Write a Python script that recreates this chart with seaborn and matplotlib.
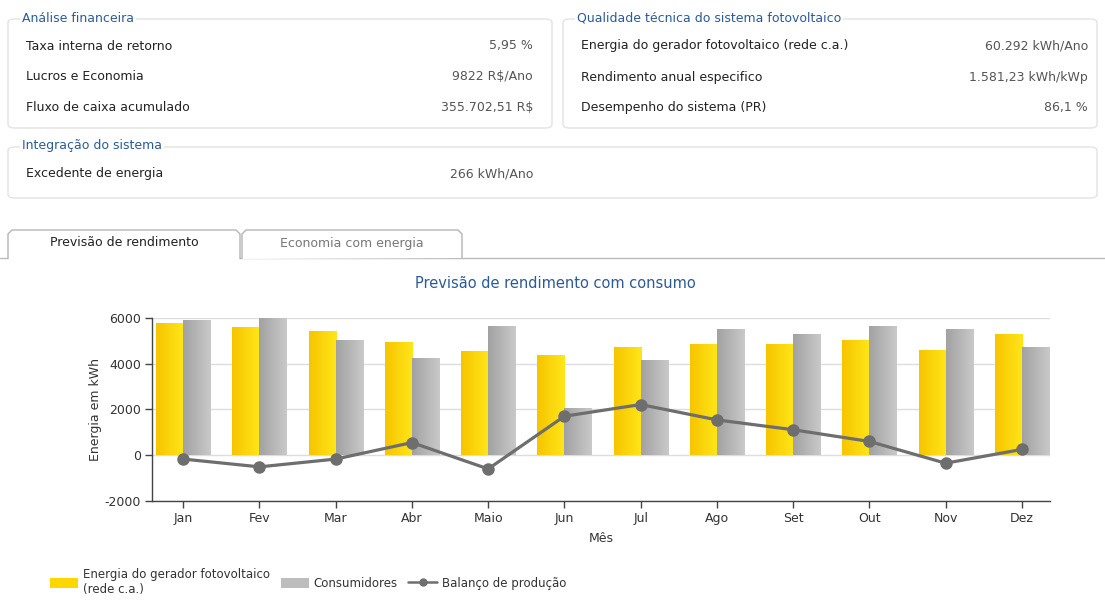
import numpy as np
import pandas as pd
import matplotlib
matplotlib.use("Agg")
import matplotlib.pyplot as plt
from matplotlib.patches import FancyBboxPatch, Rectangle, Polygon
from matplotlib.lines import Line2D
from matplotlib.colors import LinearSegmentedColormap
import seaborn as sns

# data
meses = ["Jan", "Fev", "Mar", "Abr", "Maio", "Jun", "Jul", "Ago", "Set", "Out", "Nov", "Dez"]
energia_fv = [5780, 5590, 5410, 4920, 4550, 4360, 4720, 4850, 4850, 5040, 4600, 5290]
consumidores = [5900, 5980, 5030, 4240, 5650, 2080, 4170, 5520, 5290, 5650, 5520, 4720]
balanco = [-170, -510, -170, 550, -600, 1700, 2210, 1540, 1110, 600, -350, 250]

serie_fv = "Energia do gerador fotovoltaico\n(rede c.a.)"
serie_cons = "Consumidores"
serie_bal = "Balanço de produção"

financeira = [("Taxa interna de retorno", "5,95 %"),
              ("Lucros e Economia", "9822 R$/Ano"),
              ("Fluxo de caixa acumulado", "355.702,51 R$")]
qualidade = [("Energia do gerador fotovoltaico (rede c.a.)", "60.292 kWh/Ano"),
             ("Rendimento anual especifico", "1.581,23 kWh/kWp"),
             ("Desempenho do sistema (PR)", "86,1 %")]
integracao = [("Excedente de energia", "266 kWh/Ano")]

sns.set_theme(style="white")
plt.rcParams["font.family"] = ["DejaVu Sans"]
plt.rcParams["axes.unicode_minus"] = False

W, H = 1105, 606
fig = plt.figure(figsize=(W / 100, H / 100), dpi=100)

def fx(x):
    return x / W

def fy(y):
    return 1 - y / H

blue = "#2B5A9A"
txt = "#222222"
valc = "#555555"

# --- info boxes on top ---
def box(x0, y0, x1, y1, title, rows, val_right):
    p = FancyBboxPatch((fx(x0), fy(y1)), fx(x1 - x0), (y1 - y0) / H,
                       boxstyle="round,pad=0,rounding_size=0.006",
                       transform=fig.transFigure, fc="white", ec="#E3E3E3", lw=1.0)
    fig.add_artist(p)
    fig.text(fx(x0 + 14), fy(y0 - 1), title, color=blue, fontsize=9, va="center",
             ha="left", bbox=dict(fc="white", ec="none", pad=1.5))
    for i, (lab, val) in enumerate(rows):
        yy = y0 + 27 + i * 31
        fig.text(fx(x0 + 18), fy(yy), lab, color=txt, fontsize=9, va="center")
        fig.text(fx(val_right), fy(yy), val, color=valc, fontsize=9, va="center", ha="right")

box(8, 19, 552, 128, "Análise financeira", financeira, 533)
box(563, 19, 1097, 128, "Qualidade técnica do sistema fotovoltaico", qualidade, 1088)
box(8, 147, 1097, 198, "Integração do sistema", integracao, 533)

# --- tabs ---
fig.add_artist(Line2D([fx(0), fx(1105)], [fy(258), fy(258)], transform=fig.transFigure,
                      color="#BBBBBB", lw=1))
for (x0, x1, lab, col, active) in [(8, 240, "Previsão de rendimento", "#222222", True),
                                   (242, 462, "Economia com energia", "#777777", False)]:
    pts = [(fx(x0), fy(259)), (fx(x0), fy(234)), (fx(x0 + 4), fy(230)),
           (fx(x1 - 4), fy(230)), (fx(x1), fy(234)), (fx(x1), fy(259 if active else 258))]
    fig.add_artist(Polygon(pts, closed=False, transform=fig.transFigure,
                           fc="white", ec="#B5B5B5", lw=1, zorder=2))
    if active:
        fig.add_artist(Rectangle((fx(x0 + 1), fy(260)), fx(x1 - x0 - 2), 3 / H,
                                 transform=fig.transFigure, fc="white", ec="none", zorder=3))
    fig.text(fx((x0 + x1) / 2), fy(243), lab, color=col, fontsize=9, ha="center",
             va="center", zorder=4)

fig.text(fx(555), fy(283), "Previsão de rendimento com consumo", color=blue,
         fontsize=10.5, ha="center", va="center")

# --- chart ---
ax = fig.add_axes([fx(152), fy(501), fx(1050 - 152), (501 - 317.7) / H])

df = pd.DataFrame({
    "Mês": meses * 2,
    "valor": energia_fv + consumidores,
    "serie": [serie_fv] * 12 + [serie_cons] * 12,
})
sns.barplot(data=df, x="Mês", y="valor", hue="serie", palette=["#FFD700", "#B0B0B0"],
            width=0.71, gap=0, saturation=1, legend=False, ax=ax, zorder=2)

# gradient fill of the bars
cm_y = LinearSegmentedColormap.from_list("gy", ["#F6C500", "#FFE619"])
cm_g = LinearSegmentedColormap.from_list("gg", ["#A2A2A2", "#C9C9C9"])
grad = np.linspace(0, 1, 64).reshape(1, -1)
for bar in ax.patches:
    x0, y0 = bar.get_x(), bar.get_y()
    w, h = bar.get_width(), bar.get_height()
    cm = cm_y if bar.get_facecolor()[2] < 0.3 else cm_g
    im = ax.imshow(grad, extent=[x0, x0 + w, y0, y0 + h], aspect="auto", cmap=cm,
                   zorder=2, interpolation="bicubic")
    im.set_clip_path(bar)
    bar.set_facecolor("none")
    bar.set_edgecolor("none")

sns.lineplot(x=np.arange(12), y=balanco, color="#6E6E6E", lw=2.3, marker="o",
             markersize=9, markeredgewidth=0, ax=ax, zorder=4)

ax.set_xlim(-0.41, 11.37)
ax.set_ylim(-2000, 6000)
ax.set_yticks([-2000, 0, 2000, 4000, 6000])
ax.set_xticks(range(12))
ax.set_xticklabels(meses)
ax.yaxis.grid(True, color="#DDDDDD", lw=1)
ax.set_axisbelow(True)
for s in ["top", "right"]:
    ax.spines[s].set_visible(False)
for s in ["left", "bottom"]:
    ax.spines[s].set_color("#444444")
    ax.spines[s].set_linewidth(1)
ax.tick_params(axis="both", which="both", length=5, width=1, color="#444444",
               labelsize=9, labelcolor="#333333", left=True, bottom=True, pad=3)
ax.set_xlabel("Mês", fontsize=9, color="#333333", labelpad=5)
ax.set_ylabel("Energia em kWh", fontsize=9, color="#333333", labelpad=2)

# --- legend ---
handles = [Rectangle((0, 0), 1, 1, fc="#FFD700", ec="none"),
           Rectangle((0, 0), 1, 1, fc="#BDBDBD", ec="none"),
           Line2D([], [], color="#6E6E6E", lw=1.8, marker="o", markersize=5)]
fig.legend(handles, [serie_fv, serie_cons, serie_bal], ncol=3, loc="upper left",
           bbox_to_anchor=(fx(50), fy(568)), frameon=False, fontsize=8.5,
           handlelength=2.4, handleheight=1.0, handletextpad=0.4, columnspacing=0.9,
           labelcolor="#333333", borderaxespad=0, borderpad=0)

fig.savefig("out.png", dpi=100, facecolor="white")
